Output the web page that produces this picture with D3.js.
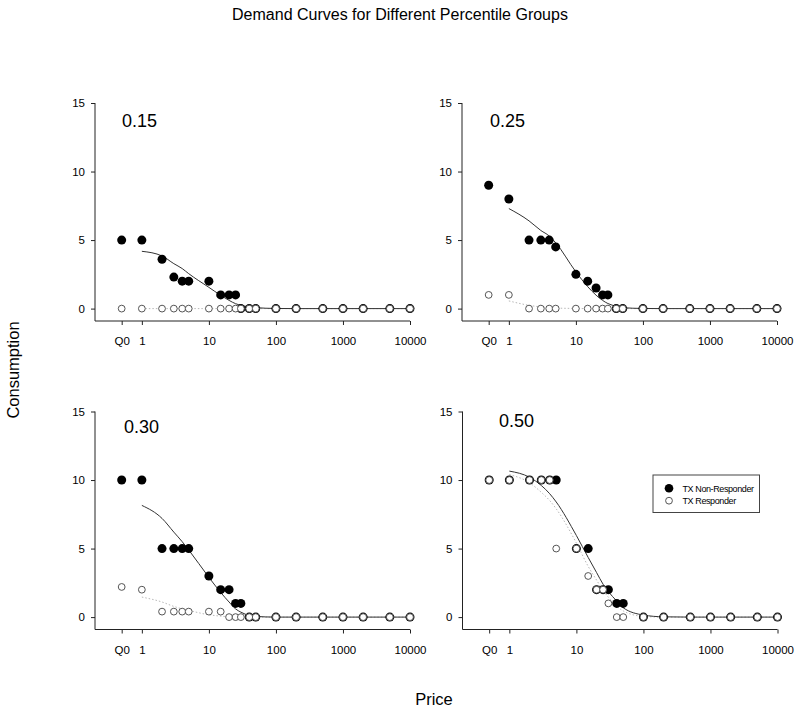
<!DOCTYPE html>
<html><head><meta charset="utf-8">
<script src="https://cdn.jsdelivr.net/npm/d3@7"></script>
<style>
body{margin:0;background:#fff}
text{font-family:"Liberation Sans",Arial,Helvetica,sans-serif;fill:#000}
</style>
</head><body>
<svg id="chart" width="800" height="715"></svg>
<script>
// ---- data ----
const prices = [0.5, 1, 2, 3, 4, 5, 10, 15, 20, 25, 30, 40, 50, 100, 200, 500, 1000, 2000, 5000, 10000]; // 0.5 = Q0
const fitPrices = [1, 2, 3, 4, 5, 10, 15, 20, 25, 30, 40, 50, 100, 200, 500, 1000, 2000, 5000, 10000];
const xTickValues = [0.5, 1, 10, 100, 1000, 10000];
const xTickLabels = ["Q0", "1", "10", "100", "1000", "10000"];
const yTickValues = [0, 5, 10, 15];
const groupLabels = ["0.15", "0.25", "0.30", "0.50"];
const seriesNames = ["TX Non-Responder", "TX Responder"];

const nonResp015 = [5, 5, 3.6, 2.3, 2, 2, 2, 1, 1, 1, 0, 0, 0, 0, 0, 0, 0, 0, 0, 0];
const resp015    = [0, 0, 0, 0, 0, 0, 0, 0, 0, 0, 0, 0, 0, 0, 0, 0, 0, 0, 0, 0];
const fitNonResp015 = [4.18, 3.84, 3.28, 2.92, 2.55, 1.55, 0.97, 0.6, 0.36, 0.24, 0.12, 0.07, 0.01, 0, 0, 0, 0, 0, 0];
const fitResp015    = [0, 0, 0, 0, 0, 0, 0, 0, 0, 0, 0, 0, 0, 0, 0, 0, 0, 0, 0];

const nonResp025 = [9, 8, 5, 5, 5, 4.5, 2.5, 2, 1.5, 1, 1, 0, 0, 0, 0, 0, 0, 0, 0, 0];
const resp025    = [1, 1, 0, 0, 0, 0, 0, 0, 0, 0, 0, 0, 0, 0, 0, 0, 0, 0, 0, 0];
const fitNonResp025 = [7.3, 6.4, 5.7, 5.3, 4.8, 2.68, 1.6, 0.98, 0.6, 0.37, 0.17, 0.07, 0.01, 0, 0, 0, 0, 0, 0];
const fitResp025    = [0.56, 0.24, 0.12, 0.07, 0.04, 0.01, 0, 0, 0, 0, 0, 0, 0, 0, 0, 0, 0, 0, 0];

const nonResp030 = [10, 10, 5, 5, 5, 5, 3, 2, 2, 1, 1, 0, 0, 0, 0, 0, 0, 0, 0, 0];
const resp030    = [2.2, 2, 0.4, 0.4, 0.4, 0.4, 0.4, 0.4, 0, 0, 0, 0, 0, 0, 0, 0, 0, 0, 0, 0];
const fitNonResp030 = [8.15, 7.2, 6.2, 5.5, 4.9, 2.9, 1.8, 1.1, 0.6, 0.36, 0.12, 0.05, 0, 0, 0, 0, 0, 0, 0];
const fitResp030    = [1.46, 1.1, 0.78, 0.6, 0.49, 0.17, 0.07, 0.03, 0.01, 0.01, 0, 0, 0, 0, 0, 0, 0, 0, 0];

const nonResp050 = [10, 10, 10, 10, 10, 10, 5, 5, 2, 2, 2, 1, 1, 0, 0, 0, 0, 0, 0, 0];
const resp050    = [10, 10, 10, 10, 10, 5, 5, 3, 2, 2, 1, 0, 0, 0, 0, 0, 0, 0, 0, 0];
const fitNonResp050 = [10.65, 10.2, 9.6, 9.0, 8.4, 5.95, 4.35, 3.25, 2.4, 1.86, 1.17, 0.68, 0.15, 0.02, 0, 0, 0, 0, 0];
const fitResp050    = [10.4, 9.8, 9.1, 8.5, 7.9, 5.4, 3.7, 2.7, 1.95, 1.45, 0.8, 0.45, 0.05, 0, 0, 0, 0, 0, 0];

// ---- layout ----
const panelLayout = [
  {x0: 95,  y15: 103,   lx: 27, ly: 24},
  {x0: 462, y15: 103,   lx: 28, ly: 24},
  {x0: 95,  y15: 411.5, lx: 29, ly: 21},
  {x0: 462.5, y15: 411.5, lx: 36.5, ly: 15}
];
const panels = [
  {label: groupLabels[0], nr: nonResp015, r: resp015, fnr: fitNonResp015, fr: fitResp015},
  {label: groupLabels[1], nr: nonResp025, r: resp025, fnr: fitNonResp025, fr: fitResp025},
  {label: groupLabels[2], nr: nonResp030, r: resp030, fnr: fitNonResp030, fr: fitResp030},
  {label: groupLabels[3], nr: nonResp050, r: resp050, fnr: fitNonResp050, fr: fitResp050}
];

const W = 315, H0 = 205.6, HB = 218;
const svg = d3.select("#chart");

// global titles
svg.append("text").attr("x", 400).attr("y", 20).attr("text-anchor", "middle")
  .attr("font-size", 16).text("Demand Curves for Different Percentile Groups");
svg.append("text").attr("transform", "translate(19,370) rotate(-90)").attr("text-anchor", "middle")
  .attr("font-size", 16.5).text("Consumption");
svg.append("text").attr("x", 434).attr("y", 705).attr("text-anchor", "middle")
  .attr("font-size", 16.5).text("Price");

panels.forEach((p, i) => {
  const L = panelLayout[i];
  const g = svg.append("g").attr("transform", `translate(${L.x0},${L.y15})`);
  const x = d3.scaleLog().domain([0.2, 10000]).range([0, W]);
  const y = d3.scaleLinear().domain([0, 15]).range([H0, 0]);

  // axes
  const xAxis = d3.axisBottom(x).tickValues(xTickValues)
    .tickFormat((d, k) => xTickLabels[k]).tickSize(4).tickPadding(12);
  const gx = g.append("g").attr("transform", `translate(0,${HB})`).call(xAxis);
  const yAxis = d3.axisLeft(y).tickValues(yTickValues).tickSize(4).tickPadding(6);
  const gy = g.append("g").call(yAxis);
  gy.select(".domain").remove();
  gx.select(".domain").remove();
  g.append("line").attr("x1", 0).attr("x2", 0).attr("y1", 0).attr("y2", HB)
    .attr("stroke", "#222").attr("stroke-width", 1);
  g.append("line").attr("x1", 0).attr("x2", W).attr("y1", HB).attr("y2", HB)
    .attr("stroke", "#222").attr("stroke-width", 1);
  [gx, gy].forEach(a => {
    a.selectAll(".tick line").attr("stroke", "#222");
    a.selectAll(".tick text").attr("font-size", 11.5).attr("fill", "#000")
      .attr("font-family", '"Liberation Sans",Arial,sans-serif');
  });

  // group label
  g.append("text").attr("x", L.lx).attr("y", L.ly).attr("font-size", 18).text(p.label);

  // fitted lines
  const line = d3.line().curve(d3.curveMonotoneX).x(d => x(d[0])).y(d => y(d[1]));
  g.append("path").datum(fitPrices.map((c, k) => [c, p.fr[k]]))
    .attr("d", line).attr("fill", "none").attr("stroke", "#b8b8b8")
    .attr("stroke-width", 1).attr("stroke-dasharray", "1.5,2");
  g.append("path").datum(fitPrices.map((c, k) => [c, p.fnr[k]]))
    .attr("d", line).attr("fill", "none").attr("stroke", "#333").attr("stroke-width", 1);

  // points
  g.selectAll("circle.nr").data(prices.map((c, k) => [c, p.nr[k]])).enter()
    .append("circle").attr("class", "nr")
    .attr("cx", d => x(d[0])).attr("cy", d => y(d[1])).attr("r", 4.5).attr("fill", "#000");
  g.selectAll("circle.r").data(prices.map((c, k) => [c, p.r[k]])).enter()
    .append("circle").attr("class", "r")
    .attr("cx", d => x(d[0])).attr("cy", d => y(d[1])).attr("r", 3.4)
    .attr("fill", "#fff").attr("stroke", "#555").attr("stroke-width", 1);

  // legend in last panel
  if (i === 3) {
    const lg = g.append("g").attr("transform", "translate(190.5,63.5)");
    lg.append("rect").attr("x", 0).attr("y", 0).attr("width", 106.5).attr("height", 37.5)
      .attr("fill", "#fff").attr("stroke", "#444").attr("stroke-width", 1);
    lg.append("circle").attr("cx", 16).attr("cy", 13.3).attr("r", 4.3).attr("fill", "#000");
    lg.append("circle").attr("cx", 16).attr("cy", 25.7).attr("r", 3.4)
      .attr("fill", "#fff").attr("stroke", "#555");
    seriesNames.forEach((s, k) => {
      lg.append("text").attr("x", 29.5).attr("y", 16.5 + k * 12.4).attr("font-size", 9)
        .attr("letter-spacing", -0.4).text(s);
    });
  }
});
</script>
</body></html>
